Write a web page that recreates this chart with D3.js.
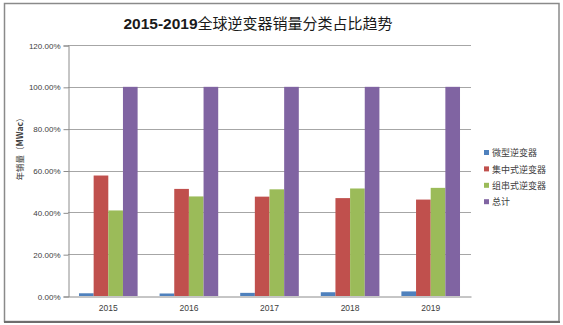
<!DOCTYPE html>
<html>
<head>
<meta charset="utf-8">
<script src="https://cdn.jsdelivr.net/npm/d3@7"></script>
<style>
  html, body { margin: 0; padding: 0; background: #fff; }
  svg { display: block; }
</style>
</head>
<body>
<svg id="chart" width="563" height="325"></svg>
<script>
// Inverter sales share by type, 2015-2019
const years = ["2015", "2016", "2017", "2018", "2019"];
const seriesNames = ["微型逆变器", "集中式逆变器", "组串式逆变器", "总计"];
const micro   = [0.013, 0.012, 0.015, 0.018, 0.022];
const central = [0.576, 0.512, 0.475, 0.468, 0.461];
const string  = [0.409, 0.476, 0.510, 0.514, 0.517];
const total   = [1.0, 1.0, 1.0, 1.0, 1.0];
const yTicks  = [0, 0.2, 0.4, 0.6, 0.8, 1.0, 1.2];
const colors  = ["#4f81bd", "#c0504d", "#9bbb59", "#8064a2"];

const seriesValues = [micro, central, string, total];

const svg = d3.select("#chart");
const cjk = "'Noto Sans CJK SC', 'Noto Sans', sans-serif";
const latin = "'Liberation Sans', Arial, sans-serif";

// outer frame
svg.append("rect")
  .attr("x", 4.5).attr("y", 3.5).attr("width", 554.5).attr("height", 318)
  .attr("fill", "#fff").attr("stroke", "#8a8a8a").attr("stroke-width", 1.5);
svg.append("line")
  .attr("x1", 4).attr("x2", 560).attr("y1", 322).attr("y2", 322)
  .attr("stroke", "#6e6e6e").attr("stroke-width", 2);

const plotLeft = 68, plotRight = 471, plotTop = 45, plotBottom = 296;

const x0 = d3.scaleBand().domain(years).range([plotLeft, plotRight]).paddingInner(0).paddingOuter(0);
const x1 = d3.scaleBand().domain(d3.range(seriesNames.length))
  .range([0, x0.bandwidth()]).paddingOuter(0.75).paddingInner(0);
const y = d3.scaleLinear().domain([0, 1.2]).range([plotBottom, plotTop]);

// grid lines
svg.append("g").selectAll("line").data(yTicks.filter(d => d > 0)).join("line")
  .attr("x1", plotLeft).attr("x2", plotRight)
  .attr("y1", d => Math.round(y(d)) + 0.5).attr("y2", d => Math.round(y(d)) + 0.5)
  .attr("stroke", "#a6a6a6").attr("stroke-width", 1);

// y axis
const yAxis = d3.axisLeft(y).tickValues(yTicks)
  .tickFormat(d => (d * 100).toFixed(2) + "%").tickSize(5).tickPadding(3);
const gy = svg.append("g").attr("transform", `translate(${plotLeft + 0.5},0.5)`).call(yAxis);
gy.select(".domain").attr("stroke", "#8c8c8c");
gy.selectAll(".tick line").attr("stroke", "#8c8c8c");
gy.selectAll("text").attr("font-family", latin).attr("font-size", 8).attr("fill", "#404040");

// bars
const groups = svg.append("g").selectAll("g").data(years).join("g")
  .attr("transform", d => `translate(${x0(d)},0)`);
groups.selectAll("rect")
  .data((d, i) => seriesValues.map((vals, s) => ({ s, v: vals[i] })))
  .join("rect")
  .attr("x", d => x1(d.s))
  .attr("width", x1.bandwidth())
  .attr("y", d => y(d.v))
  .attr("height", d => y(0) - y(d.v))
  .attr("fill", d => colors[d.s]);

// x axis
const xAxis = d3.axisBottom(x0).tickSize(0).tickPadding(8);
const gx = svg.append("g").attr("transform", `translate(0,${plotBottom + 0.5})`).call(xAxis);
gx.select(".domain").attr("stroke", "#8c8c8c");
gx.selectAll("text").attr("font-family", latin).attr("font-size", 8.5).attr("fill", "#404040");

// title
const title = svg.append("text").attr("x", 258).attr("y", 29)
  .attr("text-anchor", "middle").attr("fill", "#1a1a1a");
title.append("tspan").attr("font-family", latin).attr("font-weight", "bold")
  .attr("font-size", 15.5).text("2015-2019");
title.append("tspan").attr("font-family", cjk).attr("font-size", 15)
  .text("全球逆变器销量分类占比趋势");

// y axis label
const yLabel = svg.append("text")
  .attr("transform", "translate(23,147) rotate(-90)")
  .attr("text-anchor", "middle").attr("font-family", cjk).attr("font-size", 8.5)
  .attr("fill", "#404040");
yLabel.append("tspan").text("年销量（");
yLabel.append("tspan").attr("font-weight", "bold").text("MWac");
yLabel.append("tspan").text("）");

// legend
const legend = svg.append("g").attr("transform", "translate(484,153)");
const items = legend.selectAll("g").data(seriesNames).join("g")
  .attr("transform", (d, i) => `translate(0,${i * 16.4})`);
items.append("rect").attr("x", 0).attr("y", -3).attr("width", 5).attr("height", 5)
  .attr("fill", (d, i) => colors[i]);
items.append("text").attr("x", 8).attr("y", 0).attr("dy", "0.35em")
  .attr("font-family", cjk).attr("font-size", 9).attr("fill", "#404040")
  .text(d => d);
</script>
</body>
</html>
